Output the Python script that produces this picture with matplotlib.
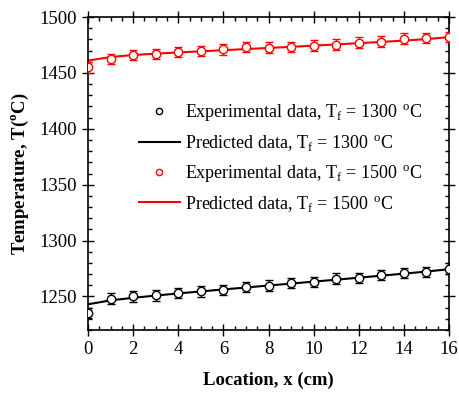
import matplotlib
matplotlib.use("Agg")
import matplotlib.pyplot as plt
from matplotlib.ticker import MultipleLocator

plt.rcParams['font.family'] = ['Liberation Serif', 'DejaVu Serif']
plt.rcParams['mathtext.fontset'] = 'custom'
plt.rcParams['mathtext.rm'] = 'Liberation Serif'

x = list(range(17))
exp_1300 = [1235, 1248, 1250, 1251, 1253, 1254.5, 1256, 1258.3, 1259.8, 1262, 1262.8, 1266, 1266.7, 1269, 1270.8, 1272, 1275]
pred_1300 = [1243, 1246.5, 1248.8, 1250.8, 1252.7, 1254.5, 1256.3, 1258, 1259.8, 1261.5, 1263.3, 1265, 1266.8, 1268.6, 1270.4, 1272.3, 1274.4]
exp_1500 = [1455, 1462.5, 1466, 1467, 1468.5, 1469.6, 1471, 1473, 1472.5, 1473, 1474.4, 1475.3, 1477, 1478, 1480.6, 1481, 1482]
pred_1500 = [1461, 1464.2, 1466, 1467.2, 1468.3, 1469.3, 1470.3, 1471.3, 1472.3, 1473.3, 1474.4, 1475.5, 1476.6, 1477.7, 1478.9, 1480.2, 1482]
err = 4.7

W, H = 459, 394
fig = plt.figure(figsize=(W/100, H/100), dpi=100)
ax = fig.add_axes([88/W, 1 - 330/H, (449-88)/W, (330-17)/H])

h1 = ax.errorbar(x, exp_1300, yerr=err, fmt='o', mfc='white', mec='black', ecolor='black',
                 ms=6, mew=1.0, capsize=3, elinewidth=1.0, capthick=1.0, zorder=3)
l1, = ax.plot(x, pred_1300, color='black', lw=1.5, zorder=2)
h2 = ax.errorbar(x, exp_1500, yerr=err, fmt='o', mfc='white', mec='red', ecolor='red',
                 ms=6, mew=1.0, capsize=3, elinewidth=1.0, capthick=1.0, zorder=3)
l2, = ax.plot(x, pred_1500, color='red', lw=1.5, zorder=2)

ax.set_xlim(0, 16)
ax.set_ylim(1220, 1500)
ax.xaxis.set_major_locator(MultipleLocator(2))
ax.xaxis.set_minor_locator(MultipleLocator(0.5))
ax.yaxis.set_major_locator(MultipleLocator(50))
ax.yaxis.set_minor_locator(MultipleLocator(10))
ax.tick_params(which='both', top=True, right=True, labelsize=13.5, width=1.0)
ax.tick_params(which='major', direction='inout', length=8)
ax.tick_params(which='minor', direction='in', length=3)
ax.tick_params(axis='x', which='major', pad=4)
ax.tick_params(axis='y', which='major', pad=4)
for s in ax.spines.values():
    s.set_linewidth(1.2)

ax.set_xlabel('Location, x (cm)', fontsize=13.5, fontweight='bold', labelpad=10)
ax.set_ylabel(r'Temperature, T($^\mathregular{o}$C)', fontsize=13.5, fontweight='bold', labelpad=6)

labels = [r'Experimental data, T$_\mathregular{f}$ = 1300$\mathregular{\ ^{o}}$C',
          r'Predicted data, T$_\mathregular{f}$ = 1300$\mathregular{\ ^{o}}$C',
          r'Experimental data, T$_\mathregular{f}$ = 1500$\mathregular{\ ^{o}}$C',
          r'Predicted data, T$_\mathregular{f}$ = 1500$\mathregular{\ ^{o}}$C']
ax.legend([h1.lines[0], l1, h2.lines[0], l2], labels, loc='upper left',
          bbox_to_anchor=(139/W, 1 - 102/H), bbox_transform=fig.transFigure,
          frameon=False, fontsize=13, handlelength=2.27, handletextpad=0.28,
          labelspacing=0.55, borderpad=0, borderaxespad=0, numpoints=1, markerscale=0.75)

fig.savefig('out.png', dpi=100)
